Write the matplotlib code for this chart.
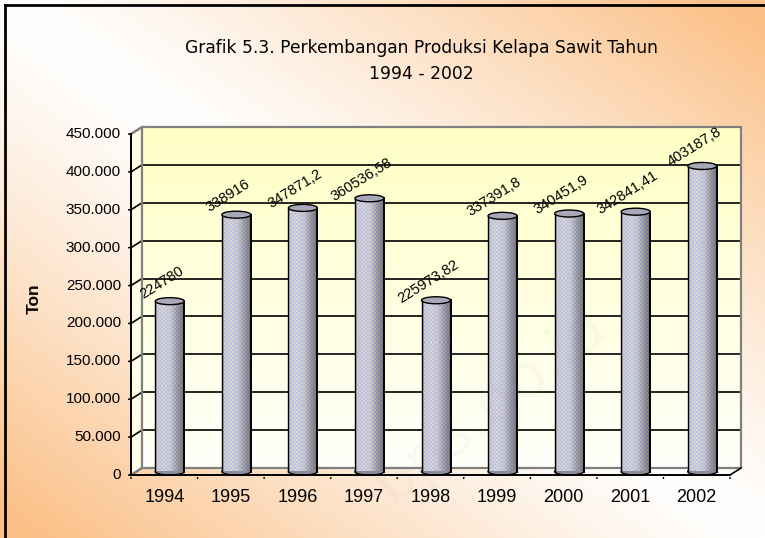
import numpy as np
import matplotlib
matplotlib.use("Agg")
import matplotlib.pyplot as plt
from matplotlib.patches import Rectangle, Ellipse, Polygon

# Data
years = ["1994", "1995", "1996", "1997", "1998", "1999", "2000", "2001", "2002"]
produksi = [224780, 338916, 347871.2, 360536.58, 225973.82, 337391.8, 340451.9, 342841.41, 403187.8]
yticks = [0, 50000, 100000, 150000, 200000, 250000, 300000, 350000, 400000, 450000]
title = "Grafik 5.3. Perkembangan Produksi Kelapa Sawit Tahun\n1994 - 2002"

W, H = 765, 538
fig = plt.figure(figsize=(W / 100, H / 100), dpi=100)

# background gradient (white along the diagonal, orange in the corners)
bg = fig.add_axes([0, 0, 1, 1])
u = np.linspace(0, 1, 300)[None, :]
v = np.linspace(0, 1, 220)[:, None]
t = np.clip(np.abs(u - v) * 1.05, 0, 1) ** 1.2
orange = np.array([251, 192, 135]) / 255
white = np.array([255, 255, 255]) / 255
img = white + (orange - white) * t[..., None]
bg.imshow(img, extent=(0, 1, 0, 1), aspect="auto", origin="upper")
bg.set_xlim(0, 1)
bg.set_ylim(0, 1)
bg.axis("off")
# outer border
bg.plot([5 / W, 5 / W], [0, 1 - 5 / H], color="black", lw=2)
bg.plot([5 / W, 1], [1 - 5 / H, 1 - 5 / H], color="black", lw=2)

# main axes sits on the front frame of the 3d box
x0, x1, ytop, ybot = 131, 730, 134, 475
ax = fig.add_axes([x0 / W, (H - ybot) / H, (x1 - x0) / W, (ybot - ytop) / H])
ax.set_xlim(-0.5, 8.5)
ax.set_ylim(0, 450000)
ax.axis("off")

pxx = 9 / (x1 - x0)              # data units per pixel
pxy = 450000 / (ybot - ytop)
DX = 11 * pxx                    # depth offset
DY = 7 * pxy
n = len(years)
ymax = yticks[-1]

# back wall with pale yellow gradient
wall = np.linspace(1, 0, 100)[:, None]
wy = np.array([255, 255, 198]) / 255
ww = np.array([255, 255, 250]) / 255
wimg = ww + (wy - ww) * wall[..., None]
wimg = np.repeat(wimg, 2, axis=1)
ax.imshow(wimg, extent=(-0.5 + DX, 8.5 + DX, DY, ymax + DY), aspect="auto",
          origin="upper", zorder=0, clip_on=False)
# side wall
ax.add_patch(Polygon([(-0.5, 0), (-0.5 + DX, DY), (-0.5 + DX, ymax + DY), (-0.5, ymax)],
                     closed=True, facecolor="#fffde6", edgecolor="none", zorder=0.5, clip_on=False))

# gridlines on back and side wall
for yv in yticks[1:-1]:
    ax.plot([-0.5 + DX, 8.5 + DX], [yv + DY, yv + DY], color="black", lw=1.2, zorder=1, clip_on=False)
for yv in yticks:
    ax.plot([-0.5, -0.5 + DX], [yv, yv + DY], color="black", lw=1.2, zorder=1, clip_on=False)
    ax.annotate("", xy=(-0.5, yv), xytext=(-5, 0), textcoords="offset pixels",
                arrowprops=dict(arrowstyle="-", color="black", lw=1.2), annotation_clip=False)
    ax.annotate(f"{yv:,}".replace(",", "."), xy=(-0.5, yv), xytext=(-10, 0),
                textcoords="offset pixels", ha="right", va="center",
                fontsize=11, family="Liberation Sans", annotation_clip=False)

# wall frame
gray = "#808080"
ax.plot([-0.5 + DX, -0.5 + DX, 8.5 + DX, 8.5 + DX, -0.5 + DX],
        [DY, ymax + DY, ymax + DY, DY, DY], color=gray, lw=1.6, zorder=1.5, clip_on=False)
ax.plot([-0.5, -0.5 + DX], [ymax, ymax + DY], color=gray, lw=1.6, zorder=1.5, clip_on=False)
ax.plot([-0.5, -0.5 + DX], [0, DY], color=gray, lw=1.6, zorder=1.5, clip_on=False)
ax.plot([8.5, 8.5 + DX], [0, DY], color="black", lw=1.2, zorder=1.5, clip_on=False)

# front axes lines and x ticks
ax.plot([-0.5, -0.5], [0, ymax], color="black", lw=1.4, zorder=6, clip_on=False)
ax.plot([-0.5, 8.5], [0, 0], color="black", lw=1.4, zorder=6, clip_on=False)
for i in range(n + 1):
    ax.annotate("", xy=(i - 0.5, 0), xytext=(0, -6), textcoords="offset pixels",
                arrowprops=dict(arrowstyle="-", color="black", lw=1.2), annotation_clip=False)
for i, yr in enumerate(years):
    ax.annotate(yr, xy=(i, 0), xytext=(0, -23), textcoords="offset pixels",
                ha="center", va="center", fontsize=13, family="Liberation Sans",
                annotation_clip=False)

# cylinders: shaded body with a fine blue/yellow dither
bw = 29 * pxx
eh = 7 * pxy
cols = 15
shade = np.interp(np.arange(cols), [0, 1, 4, 8, 11, 14], [0.70, 0.80, 0.82, 0.78, 0.62, 0.48])
for i, val in enumerate(produksi):
    xc = i + DX / 2
    base = DY / 2
    top = val + base
    rows = max(int(val / pxy / 2), 2)
    chk = (np.add.outer(np.arange(rows), np.arange(cols)) % 2) * 2 - 1
    tex = np.empty((rows, cols, 3))
    tex[..., 0] = shade * 0.98 + chk * 0.05
    tex[..., 1] = shade * 0.98 + chk * 0.05
    tex[..., 2] = shade * 1.06 - chk * 0.07
    tex = tex.clip(0, 1)
    ax.add_patch(Ellipse((xc, base), bw, eh, facecolor="#8c8c9c", edgecolor="black",
                         lw=1, zorder=3, clip_on=False))
    body = Rectangle((xc - bw / 2, base), bw, val, facecolor="none", edgecolor="none",
                     zorder=3.1, clip_on=False)
    ax.add_patch(body)
    im = ax.imshow(tex, extent=(xc - bw / 2, xc + bw / 2, base, top), aspect="auto",
                   zorder=3.1, interpolation="nearest")
    im.set_clip_path(body)
    ax.plot([xc - bw / 2, xc - bw / 2], [base, top], color="black", lw=1, zorder=3.3, clip_on=False)
    ax.plot([xc + bw / 2, xc + bw / 2], [base, top], color="black", lw=1.4, zorder=3.3, clip_on=False)
    ax.add_patch(Ellipse((xc, top), bw, eh, facecolor="#a8a8b8", edgecolor="black",
                         lw=1, zorder=3.4, clip_on=False))
    lab = ("%.2f" % val).rstrip("0").rstrip(".").replace(".", ",")
    ax.annotate(lab, xy=(xc, top), xytext=(-8, 19), textcoords="offset pixels",
                ha="center", va="center", rotation=32, fontsize=10.5,
                family="Liberation Sans", zorder=7, annotation_clip=False)

ax.set_xlim(-0.5, 8.5)
ax.set_ylim(0, 450000)

# titles
fig.text(421 / W, 1 - 61 / H, title, ha="center", va="center", fontsize=12.3,
         family="DejaVu Sans", linespacing=1.55)
fig.text(34 / W, 1 - 299 / H, "Ton", rotation=90, ha="center", va="center",
         fontsize=12.5, fontweight="bold", family="Liberation Sans")

# faint watermark
fig.text(490 / W, 1 - 405 / H, "bps.go.id", rotation=38, ha="center", va="center",
         fontsize=44, color="#909090", alpha=0.05, family="DejaVu Sans")

fig.savefig("out.png", dpi=100)
